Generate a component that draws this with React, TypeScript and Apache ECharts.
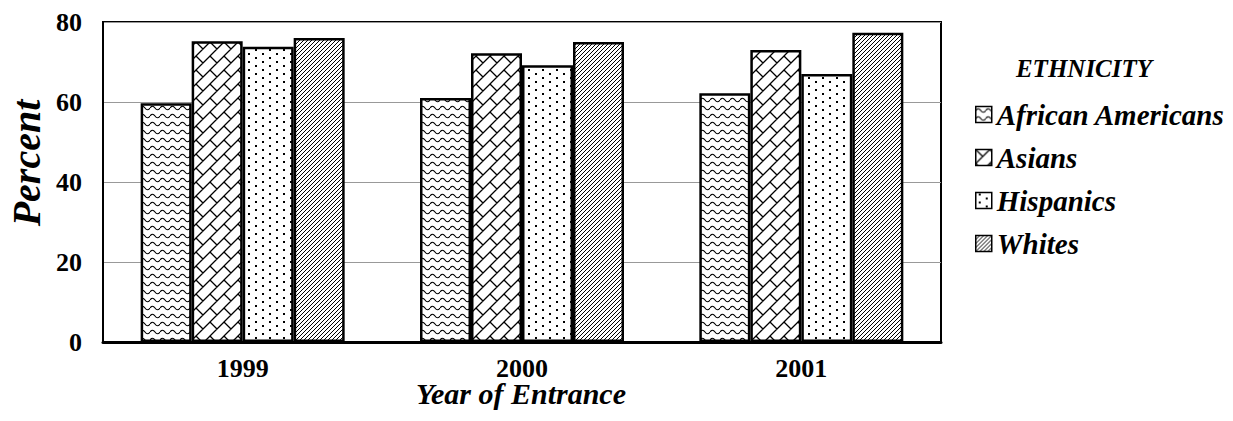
import React, { useEffect, useRef } from "react";
import * as echarts from "echarts";

const years = ["1999", "2000", "2001"];
const seriesNames = ["African Americans", "Asians", "Hispanics", "Whites"];
const africanAmericans = [59.7, 61, 62.2];
const asians = [75.2, 72.2, 73];
const hispanics = [73.8, 69.2, 67];
const whites = [76, 75, 77.3];
const yMin = 0;
const yMax = 80;
const yStep = 20;
const legendTitle = "ETHNICITY";
const xName = "Year of Entrance";
const yName = "Percent";

const FONT = '"Liberation Serif", "Times New Roman", serif';

function tile(w: number, h: number, draw: (ctx: CanvasRenderingContext2D) => void) {
  const c = document.createElement("canvas");
  c.width = w;
  c.height = h;
  const ctx = c.getContext("2d") as CanvasRenderingContext2D;
  ctx.fillStyle = "#fff";
  ctx.fillRect(0, 0, w, h);
  ctx.strokeStyle = "#000";
  ctx.fillStyle = "#000";
  draw(ctx);
  return { image: c, repeat: "repeat", imageWidth: w, imageHeight: h } as any;
}

function makePatterns() {
  const wave = tile(10, 8, (ctx) => {
    ctx.lineWidth = 1.2;
    ctx.beginPath();
    ctx.moveTo(0, 4);
    ctx.quadraticCurveTo(2.5, 0.5, 5, 4);
    ctx.quadraticCurveTo(7.5, 7.5, 10, 4);
    ctx.stroke();
  });
  const bricks = tile(14, 14, (ctx) => {
    ctx.lineWidth = 1.3;
    ctx.beginPath();
    for (const sx of [-14, 0, 14]) {
      for (const sy of [-14, 0, 14]) {
        ctx.moveTo(sx, sy + 14);
        ctx.lineTo(sx + 14, sy);
        ctx.moveTo(sx, sy);
        ctx.lineTo(sx + 7, sy + 7);
      }
    }
    ctx.stroke();
  });
  const dots = tile(14, 8, (ctx) => {
    ctx.fillRect(3, 1, 2, 2);
    ctx.fillRect(10, 5, 2, 2);
  });
  const diag = tile(4, 4, (ctx) => {
    ctx.lineWidth = 1;
    ctx.beginPath();
    for (const o of [-4, 0, 4]) {
      ctx.moveTo(o, 4);
      ctx.lineTo(o + 4, 0);
    }
    ctx.stroke();
  });
  return [wave, bricks, dots, diag];
}

export default function App() {
  const ref = useRef<HTMLDivElement>(null);
  useEffect(() => {
    if (!ref.current) return;
    const chart = echarts.init(ref.current, null, { renderer: "svg" });
    const patterns = makePatterns();
    const values = [africanAmericans, asians, hispanics, whites];
    chart.setOption({
      animation: false,
      backgroundColor: "#fff",
      textStyle: { fontFamily: FONT },
      grid: {
        left: 103,
        right: 292,
        top: 22,
        bottom: 79,
        show: true,
        borderColor: "#000",
        borderWidth: 2,
        containLabel: false,
      },
      legend: {
        orient: "vertical",
        left: 970,
        top: 95,
        itemWidth: 16,
        itemHeight: 16,
        itemGap: 14,
        icon: "rect",
        data: seriesNames,
        itemStyle: { borderColor: "#000", borderWidth: 1.5 },
        textStyle: {
          fontFamily: FONT,
          fontSize: 29,
          fontWeight: "bold",
          fontStyle: "italic",
          color: "#000",
        },
      },
      xAxis: {
        type: "category",
        data: years,
        axisLine: { lineStyle: { color: "#000", width: 3 } },
        axisTick: { show: false },
        axisLabel: {
          fontFamily: FONT,
          fontSize: 26,
          fontWeight: "bold",
          color: "#000",
          margin: 16,
          lineHeight: 20,
        },
      },
      yAxis: {
        type: "value",
        min: yMin,
        max: yMax,
        interval: yStep,
        axisLine: { show: true, lineStyle: { color: "#000", width: 2 } },
        axisTick: { show: false },
        axisLabel: { fontFamily: FONT, fontSize: 26, fontWeight: "bold", color: "#000", margin: 21 },
        splitLine: { lineStyle: { color: "#999", width: 1 } },
      },
      series: seriesNames.map((name, i) => ({
        name,
        type: "bar",
        data: values[i],
        barWidth: 51,
        barGap: "0%",
        itemStyle: { color: patterns[i], borderColor: "#000", borderWidth: 2.5 },
      })),
      graphic: [
        {
          type: "text",
          x: 1084,
          y: 68,
          style: {
            text: legendTitle,
            font: `italic bold 25px ${FONT}`,
            fill: "#000",
            align: "center",
            verticalAlign: "middle",
          },
        },
        {
          type: "text",
          x: 26,
          y: 163,
          rotation: Math.PI / 2,
          style: {
            text: yName,
            font: `italic bold 40px ${FONT}`,
            fill: "#000",
            align: "center",
            verticalAlign: "middle",
          },
        },
        {
          type: "text",
          x: 521,
          y: 393,
          style: {
            text: xName,
            font: `italic bold 30px ${FONT}`,
            lineHeight: 20,
            fill: "#000",
            align: "center",
            verticalAlign: "middle",
          },
        },
      ],
    });
    return () => chart.dispose();
  }, []);
  return (
    <div
      ref={ref}
      style={{ position: "fixed", left: 0, top: 0, width: 1233, height: 421 }}
    />
  );
}
